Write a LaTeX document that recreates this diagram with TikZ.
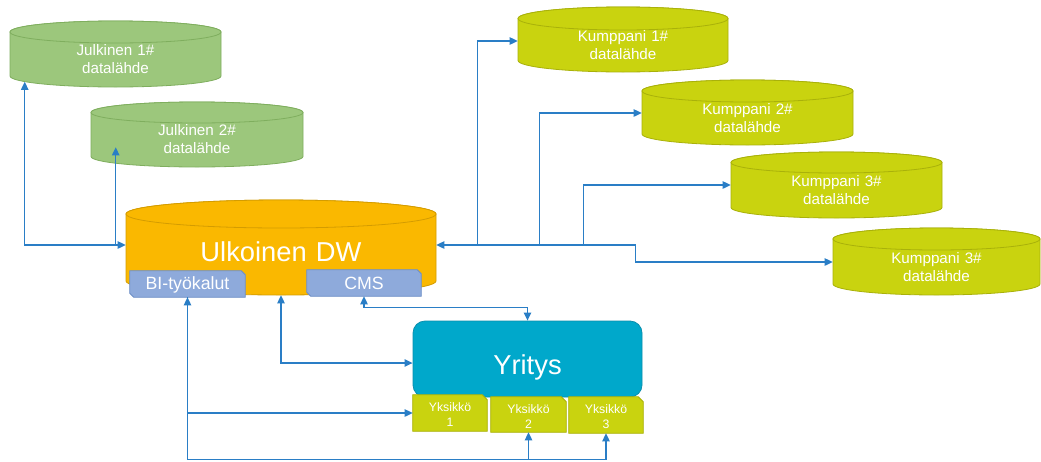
\documentclass[tikz,border=0pt]{standalone}
\usepackage{fontspec}
\setmainfont{Liberation Sans}
\usetikzlibrary{fit,calc,arrows.meta}
\definecolor{jg}{HTML}{9CC77C}
\definecolor{jgd}{HTML}{7FAE5E}
\definecolor{kg}{HTML}{C9D30F}
\definecolor{kgd}{HTML}{A9B10A}
\definecolor{dwf}{HTML}{FAB800}
\definecolor{dwd}{HTML}{D49C00}
\definecolor{bb}{HTML}{8EAADB}
\definecolor{bbd}{HTML}{6E8FC6}
\definecolor{yrf}{HTML}{00A8CB}
\definecolor{yrd}{HTML}{0A8FAE}
\definecolor{ln}{HTML}{2A7EC6}
% #1 name, #2 x1, #3 x2, #4 ytop, #5 ybot, #6 ry, #7 shape style, #8 text style, #9 text
\newcommand\cylnode[9]{%
  \pgfmathsetmacro\cyx{(#2+#3)/2}%
  \pgfmathsetmacro\cyrx{0.75*(#3-#2)/2}%
  \pgfmathsetmacro\cyry{0.75*#6}%
  \pgfmathsetmacro\cyt{#4+#6}%
  \pgfmathsetmacro\cytt{#4+2*#6}%
  \pgfmathsetmacro\cyb{#5-#6}%
  \path[#7] (#2,\cyt) -- (#2,\cyb) arc[start angle=180,end angle=360,x radius=\cyrx pt,y radius=\cyry pt] -- (#3,\cyt) arc[start angle=0,end angle=180,x radius=\cyrx pt,y radius=\cyry pt] -- cycle;
  \path[#7] (\cyx,\cyt) ellipse[x radius=\cyrx pt,y radius=\cyry pt];
  \node[fit={(#2,\cytt) (#3,#5)},inner sep=0pt,#8] (#1) {#9};
}
\begin{document}
\begin{tikzpicture}[x=0.75pt,y=-0.75pt,
  jul/.style={fill=jg,draw=jgd,line width=0.6pt},
  kum/.style={fill=kg,draw=kgd,line width=0.6pt},
  dws/.style={fill=dwf,draw=dwd,line width=0.6pt},
  cyltext/.style={text=white,align=center,font=\fontsize{11.4}{13.5}\selectfont},
  bigtext/.style={text=white,align=center,font=\fontsize{20.5}{24}\selectfont},
  area/.style={inner sep=0pt},
  subbox/.style={fill=bb,draw=bbd,line width=0.6pt},
  subtext/.style={text=white,font=\fontsize{13.3}{15}\selectfont},
  unitbox/.style={fill=kg,draw=kgd,line width=0.6pt},
  unittext/.style={text=white,align=center,font=\fontsize{9.2}{11.25}\selectfont},
  yrbox/.style={fill=yrf,draw=yrd,line width=0.6pt,rounded corners=9pt},
  conn/.style={draw=ln,line width=1pt,>={Triangle[length=6pt,width=5.5pt]}}
]
\useasboundingbox (0,0) rectangle (1041,461);
\fill[white] (0,0) rectangle (1041,461);

% data sources
\cylnode{j1}{10}{221}{21}{87}{11}{jul}{cyltext}{Julkinen 1\#\\datalähde}
\cylnode{j2}{91}{303}{102}{167}{10.5}{jul}{cyltext}{Julkinen 2\#\\datalähde}
\cylnode{k1}{518}{728}{7}{72}{11.5}{kum}{cyltext}{Kumppani 1\#\\datalähde}
\cylnode{k2}{642}{853}{80}{145}{11}{kum}{cyltext}{Kumppani 2\#\\datalähde}
\cylnode{k3}{731}{942}{152}{218}{10.5}{kum}{cyltext}{Kumppani 3\#\\datalähde}
\cylnode{k4}{833}{1040}{228}{295}{11}{kum}{cyltext}{Kumppani 3\#\\datalähde}
\cylnode{dw}{126}{436}{200}{295}{14}{dws}{bigtext}{Ulkoinen DW}

% BI and CMS boxes
\node[fit={(130,271) (245,297)},area] (bi) {};
\path[subbox] ($(bi.south west)+(4,0)$) -- ($(bi.south west)+(0,-4)$) -- (bi.north west) -- ($(bi.north east)+(-4,0)$) -- ($(bi.north east)+(0,4)$) -- (bi.south east) -- cycle;
\node[subtext] (bilabel) at ($(bi.center)+(0,1)$) {BI-työkalut};
\node[fit={(307,270) (421,296)},area] (cms) {};
\path[subbox] ($(cms.south west)+(4,0)$) -- ($(cms.south west)+(0,-4)$) -- (cms.north west) -- ($(cms.north east)+(-4,0)$) -- ($(cms.north east)+(0,4)$) -- (cms.south east) -- cycle;
\node[subtext] (cmslabel) at ($(cms.center)+(0,0.5)$) {CMS};

% Yritys
\node[fit={(413,321) (642,397)},area,yrbox] (yr) {};
\node[bigtext] (yrlabel) at ($(yr.center)+(0,8)$) {Yritys};

% units
\node[fit={(413,395) (487,431)},area] (y1) {};
\node[fit={(491,397) (566,432)},area] (y2) {};
\node[fit={(569,397) (643,433)},area] (y3) {};
\foreach \u in {y1,y2,y3}{
  \path[unitbox] (\u.south west) -- (\u.north west) -- ($(\u.north east)+(-5,0)$) -- ($(\u.north east)+(0,5)$) -- (\u.south east) -- cycle;
}
\node[unittext] (y1label) at ($(y1.center)+(0,2)$) {Yksikkö\\1};
\node[unittext] (y2label) at ($(y2.center)+(0,2)$) {Yksikkö\\2};
\node[unittext] (y3label) at ($(y3.center)+(0,2)$) {Yksikkö\\3};

% connectors
\draw[conn,<->] ($(j1.south west)+(15,-5.5)$) |- ($(dw.west)+(0,-16.5)$);
\draw[conn,->] ($(dw.west)+(-10,-16.5)$) -- ($(j2.south west)+(25,-20)$);
\draw[conn,<->] ($(dw.east)+(0,-16.5)$) -- ++(199,0) |- ($(k4.west)+(0,-10.5)$);
\draw[conn,->] ($(dw.east)+(41,-16.5)$) |- ($(k1.west)+(0,-10)$);
\draw[conn,->] ($(dw.east)+(103,-16.5)$) |- ($(k2.west)+(0,-10.5)$);
\draw[conn,->] ($(dw.east)+(147,-16.5)$) |- ($(k3.west)+(0,-10.5)$);
\draw[conn,<->] (cms.south) -- ++(0,11) -| (yr.north);
\draw[conn,<->] (dw.south) |- ($(yr.west)+(0,4)$);
\draw[conn,<->] (bi.south) |- (y1.west);
\draw[conn,->] (bi.south) -- ++(0,162) -| (y2.south);
\draw[conn,->] ($(bi.south)+(0,162)$) -| (y3.south);
\end{tikzpicture}
\end{document}
